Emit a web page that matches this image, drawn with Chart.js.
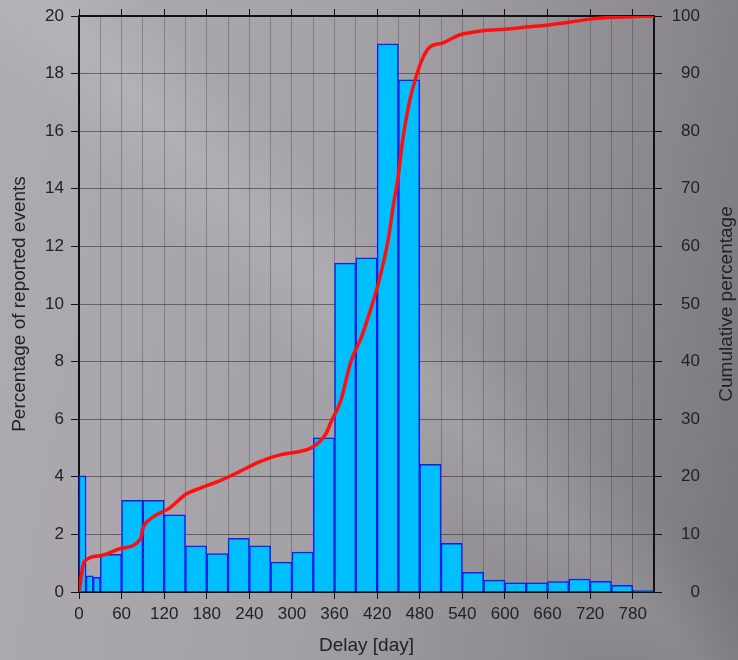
<!DOCTYPE html>
<html lang="en">
<head>
    <meta charset="UTF-8">
    <title>Reporting delay</title>
    <script src="https://cdn.jsdelivr.net/npm/chart.js"></script>
    <style>
        html, body {
            margin: 0;
            padding: 0;
        }
        body {
            width: 738px;
            height: 660px;
            overflow: hidden;
            background:
                linear-gradient(45deg, rgba(255,255,255,0) 42%, rgba(255,255,255,0.10) 50%, rgba(255,255,255,0) 58%),
                linear-gradient(100deg, #aeacb1 0%, #a4a2a7 45%, #8c8a8f 78%, #77757a 100%);
        }
        #chart {
            display: block;
        }
    </style>
</head>
<body>
    <canvas id="chart" width="738" height="660"></canvas>
    <script>
        // first bins are 10 days wide, the rest 30 days
        const narrowBinCenters = [5, 15, 25];
        const narrowBinValues = [4.03, 0.56, 0.51];

        const wideBinCenters = [45, 75, 105, 135, 165, 195, 225, 255, 285, 315, 345, 375, 405,
            435, 465, 495, 525, 555, 585, 615, 645, 675, 705, 735, 765, 795];
        const wideBinValues = [1.31, 3.18, 3.18, 2.68, 1.60, 1.33, 1.86, 1.60, 1.04, 1.39, 5.35, 11.42, 11.60,
            19.03, 17.78, 4.43, 1.69, 0.68, 0.41, 0.32, 0.32, 0.36, 0.45, 0.37, 0.23, 0.06];

        // cumulative curve
        const cumDays = [0, 7.5, 30, 60, 87, 90, 102, 128, 151, 170, 198, 226, 254, 283, 311, 325, 339, 348,
            355, 369, 383, 398, 412, 423, 435, 444, 449, 456, 465, 475, 484, 494, 512, 536, 550, 571, 601,
            630, 658, 690, 723, 761, 810];
        const cumPercent = [0, 5.3, 6.3, 7.6, 9.3, 11.0, 12.8, 14.6, 17.0, 18.0, 19.3, 20.9, 22.6, 23.8, 24.4, 24.9, 26.1, 27.5,
            29.5, 33.3, 40.0, 44.3, 49.5, 54.2, 60.8, 68.0, 71.5, 78.5, 84.8, 89.5, 92.6, 94.6, 95.3, 96.7, 97.1, 97.5, 97.7,
            98.1, 98.4, 98.9, 99.5, 99.8, 100];

        const xMax = 810;
        const leftTitle = 'Percentage of reported events';
        const rightTitle = 'Cumulative percentage';
        const bottomTitle = 'Delay [day]';

        const FONT = '"Liberation Sans", Arial, sans-serif';
        Chart.defaults.font.family = FONT;
        Chart.defaults.color = '#222';

        const toPoints = (xs, ys) => xs.map((x, i) => ({ x: x, y: ys[i] }));
        const tickEvery60 = (c) => (c.tick && c.tick.value % 60 === 0) ? '#111' : 'rgba(0,0,0,0)';

        // fixed axis box sizes so the plot frame lands where it is in the picture
        const fixWidth = (w) => (s) => { s.width = w; s.paddingTop = 0; s.paddingBottom = 0; };

        const barStyle = {
            type: 'bar',
            xAxisID: 'x',
            yAxisID: 'y',
            backgroundColor: '#00bfff',
            borderColor: '#1a1af2',
            borderWidth: 1.5,
            barThickness: 'flex',
            barPercentage: 1,
            categoryPercentage: 1,
            skipNull: true,
            order: 2
        };

        const rightTitlePlugin = {
            id: 'rightTitle',
            afterDraw(chart) {
                const ctx = chart.ctx;
                const area = chart.chartArea;
                ctx.save();
                ctx.translate(727, (area.top + area.bottom) / 2);
                ctx.rotate(-Math.PI / 2);
                ctx.font = '19px ' + FONT;
                ctx.fillStyle = '#222';
                ctx.textAlign = 'center';
                ctx.textBaseline = 'middle';
                ctx.fillText(rightTitle, 0, 0);
                ctx.restore();
            }
        };

        const chart = new Chart(document.getElementById('chart'), {
            data: {
                datasets: [
                    {
                        type: 'line',
                        xAxisID: 'x',
                        yAxisID: 'y2',
                        data: toPoints(cumDays, cumPercent),
                        borderColor: '#ff1010',
                        borderWidth: 3.5,
                        pointRadius: 0,
                        cubicInterpolationMode: 'monotone',
                        fill: false,
                        order: 1
                    },
                    Object.assign({ data: toPoints(narrowBinCenters, narrowBinValues) }, barStyle),
                    Object.assign({ data: toPoints(wideBinCenters, wideBinValues) }, barStyle)
                ]
            },
            options: {
                responsive: false,
                animation: false,
                devicePixelRatio: 1,
                layout: { padding: { left: 0, top: 0, bottom: 0, right: 38 } },
                plugins: {
                    legend: { display: false },
                    tooltip: { enabled: false }
                },
                scales: {
                    x: {
                        type: 'linear',
                        position: 'bottom',
                        offset: false,
                        min: 0,
                        max: xMax,
                        afterFit: (s) => { s.height = 68; },
                        ticks: {
                            stepSize: 30,
                            autoSkip: false,
                            maxRotation: 0,
                            padding: 5,
                            font: { size: 17 },
                            callback: (v) => v % 60 === 0 ? v : ''
                        },
                        grid: {
                            offset: false,
                            color: 'rgba(40,38,44,0.30)',
                            lineWidth: 1,
                            tickLength: 7,
                            tickColor: tickEvery60
                        },
                        border: { color: '#111', width: 2 },
                        title: {
                            display: true,
                            text: bottomTitle,
                            font: { size: 19 },
                            padding: { top: 0, bottom: 3 }
                        }
                    },
                    xTop: {
                        type: 'linear',
                        axis: 'x',
                        position: 'top',
                        offset: false,
                        min: 0,
                        max: xMax,
                        afterFit: (s) => { s.height = 16; },
                        ticks: { stepSize: 30, autoSkip: false, display: false },
                        grid: {
                            offset: false,
                            drawOnChartArea: false,
                            tickLength: 7,
                            tickColor: tickEvery60
                        },
                        border: { color: '#111', width: 2 }
                    },
                    y: {
                        type: 'linear',
                        position: 'left',
                        min: 0,
                        max: 20,
                        afterFit: fixWidth(79),
                        ticks: { stepSize: 2, padding: 7, font: { size: 17 } },
                        grid: {
                            color: 'rgba(30,28,34,0.50)',
                            lineWidth: 1,
                            tickLength: 8,
                            tickColor: '#111'
                        },
                        border: { color: '#111', width: 2 },
                        title: {
                            display: true,
                            text: leftTitle,
                            font: { size: 19 },
                            padding: { top: 8, bottom: 0 }
                        }
                    },
                    y2: {
                        type: 'linear',
                        position: 'right',
                        min: 0,
                        max: 100,
                        afterFit: fixWidth(46),
                        ticks: { stepSize: 10, padding: 10, crossAlign: 'far', font: { size: 17 } },
                        grid: {
                            drawOnChartArea: false,
                            tickLength: 8,
                            tickColor: '#111'
                        },
                        border: { color: '#111', width: 2 }
                    }
                }
            },
            plugins: [rightTitlePlugin]
        });
    </script>
</body>
</html>
